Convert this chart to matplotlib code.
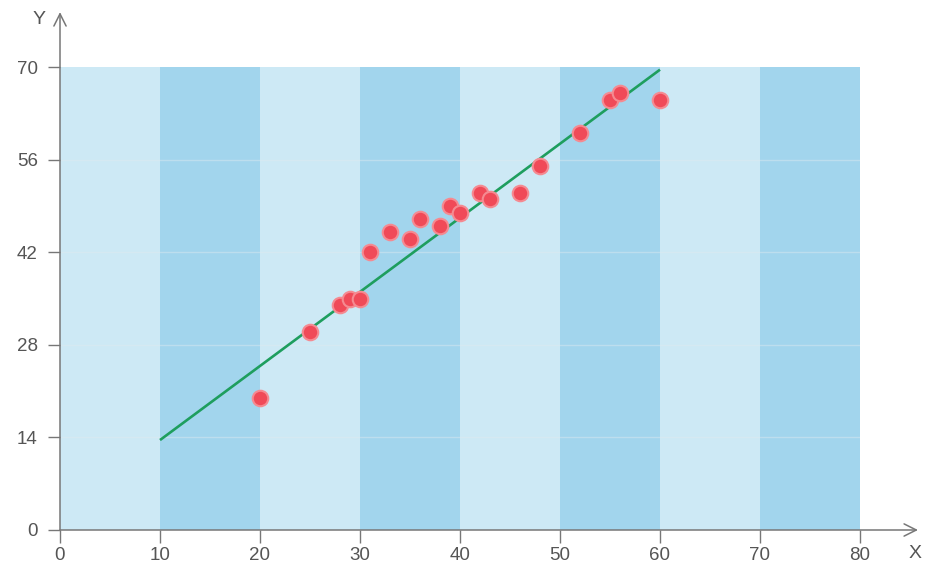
import matplotlib
matplotlib.use("Agg")
import matplotlib.pyplot as plt

# data
x_vals = [20, 25, 28, 29, 30, 31, 33, 35, 36, 38, 39, 40, 42, 43, 46, 48, 52, 55, 56, 60]
y_vals = [20, 30, 34, 35, 35, 42, 45, 44, 47, 46, 49, 48, 51, 50, 51, 55, 60, 65, 66, 65]
line_x = [10, 60]
line_y = [13.6, 69.6]
x_ticks = [0, 10, 20, 30, 40, 50, 60, 70, 80]
y_ticks = [0, 14, 28, 42, 56, 70]
band_edges = [0, 10, 20, 30, 40, 50, 60, 70, 80]

W, H = 929, 577
fig = plt.figure(figsize=(W / 100, H / 100), dpi=100)
ax = fig.add_axes([60 / W, 47 / H, 800 / W, 463 / H])
ax.set_xlim(0, 80)
ax.set_ylim(0, 70)

light, dark = '#cde9f5', '#a2d5ed'
for i in range(len(band_edges) - 1):
    ax.axvspan(band_edges[i], band_edges[i + 1], ymin=0, ymax=1,
               color=light if i % 2 == 0 else dark, lw=0, zorder=0)

for yv in y_ticks[1:-1]:
    ax.axhline(yv, color='#dfeaf0', lw=1, alpha=0.45, zorder=1)

ax.plot(line_x, line_y, color='#1e9e5e', lw=1.9, zorder=3, solid_capstyle='butt')
ax.scatter(x_vals, y_vals, s=125, color='#f04a58', edgecolors='#f58a91',
           linewidths=1.5, zorder=4)

for s in ax.spines.values():
    s.set_visible(False)

axis_col = '#777777'
ax.set_xticks(x_ticks)
ax.set_yticks(y_ticks)
ax.tick_params(axis='x', direction='out', length=9, width=1, color=axis_col,
               labelcolor='#555555', labelsize=13.5, pad=3)
ax.tick_params(axis='y', direction='out', length=9, width=1, color=axis_col,
               labelcolor='#555555', labelsize=13.5, pad=7)
for lab in ax.get_xticklabels() + ax.get_yticklabels():
    lab.set_family('Liberation Sans')

# axes with arrows
ax.annotate('', xy=(85.8, 0), xytext=(0, 0), annotation_clip=False,
            arrowprops=dict(arrowstyle='->', color=axis_col, lw=1.1,
                            mutation_scale=22, shrinkA=0, shrinkB=0), zorder=5)
ax.annotate('', xy=(0, 78.3), xytext=(0, 0), annotation_clip=False,
            arrowprops=dict(arrowstyle='->', color=axis_col, lw=1.1,
                            mutation_scale=22, shrinkA=0, shrinkB=0), zorder=5)

fig.text(915 / W, 1 - 553 / H, 'X', ha='center', va='center', color='#555555',
         fontsize=14, family='Liberation Sans')
fig.text(39 / W, 1 - 20 / H, 'Y', ha='center', va='center', color='#555555',
         fontsize=14, family='Liberation Sans')

fig.savefig('out.png', dpi=100)
